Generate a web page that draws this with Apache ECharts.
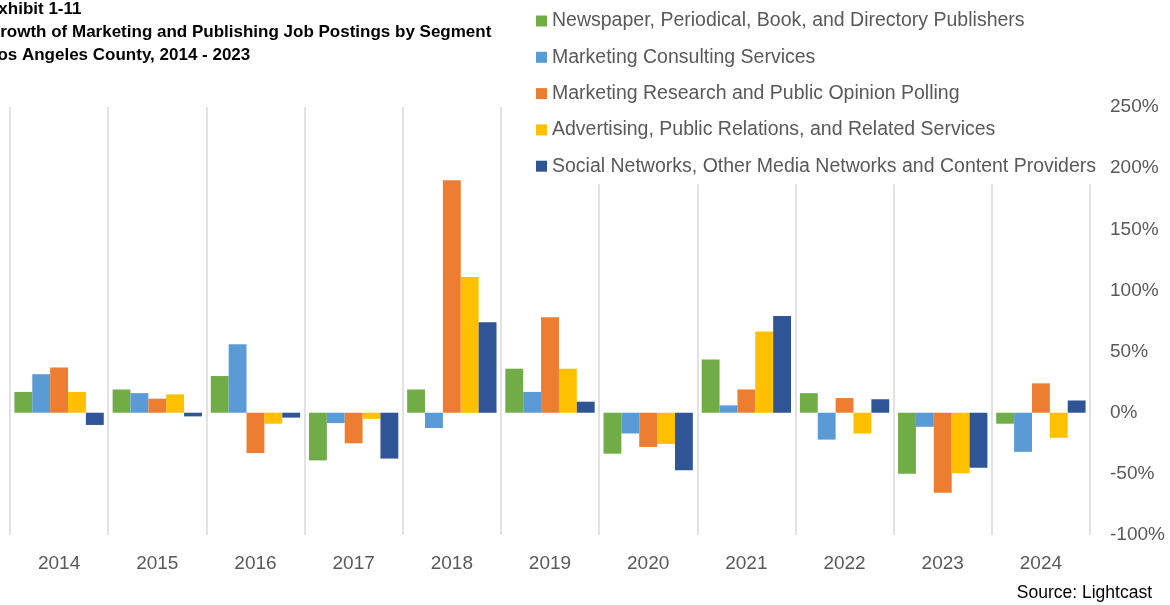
<!DOCTYPE html>
<html>
<head>
<meta charset="utf-8">
<title>Exhibit 1-11</title>
<script src="https://cdn.jsdelivr.net/npm/echarts@6/dist/echarts.min.js"></script>
<style>
  html, body { margin: 0; padding: 0; background: #fff; }
  #chart { width: 1170px; height: 605px; }
</style>
</head>
<body>
<div id="chart"></div>
<script>
const years = ["2014", "2015", "2016", "2017", "2018", "2019", "2020", "2021", "2022", "2023", "2024"];

const seriesNames = [
  "Newspaper, Periodical, Book, and Directory Publishers",
  "Marketing Consulting Services",
  "Marketing Research and Public Opinion Polling",
  "Advertising, Public Relations, and Related Services",
  "Social Networks, Other Media Networks and Content Providers",
];

const seriesColors = ["#70ad47", "#5b9bd5", "#ed7d31", "#ffc000", "#2f5597"];

// growth in percent
const publishers = [17, 19, 30, -39, 19, 36, -33.5, 43.5, 16, -50, -9];
const consulting = [31.5, 16, 56, -8.5, -12.5, 17, -17, 6, -22, -11.5, -32];
const research = [37, 11.5, -33, -25, 190, 78, -28, 19, 12, -65.5, 24];
const advertising = [17, 15, -9, -5, 111, 36, -25.5, 66.5, -17, -49.5, -20.5];
const socialNetworks = [-10, -3, -4, -37.5, 74, 9, -47, 79, 11, -45, 10];

const seriesValues = [publishers, consulting, research, advertising, socialNetworks];

const axisFont = '"Liberation Sans", Arial, sans-serif';

const chart = echarts.init(document.querySelector("#chart"));

chart.setOption({
  animation: false,
  title: [
    {
      text: "Exhibit 1-11\nGrowth of Marketing and Publishing Job Postings by Segment\nLos Angeles County, 2014 - 2023",
      left: -13,
      top: -2,
      padding: 0,
      textStyle: {
        fontFamily: axisFont,
        fontSize: 17,
        fontWeight: "bold",
        color: "#000",
        lineHeight: 23,
      },
    },
    {
      text: "Source: Lightcast",
      right: 18,
      top: 583,
      padding: 0,
      textStyle: {
        fontFamily: axisFont,
        fontSize: 17.5,
        fontWeight: "normal",
        color: "#000",
        lineHeight: 20,
      },
    },
  ],
  legend: {
    orient: "vertical",
    left: 525,
    top: 0,
    padding: [11, 6, 8, 11],
    backgroundColor: "#fff",
    itemWidth: 11,
    itemHeight: 11,
    itemGap: 16.3,
    icon: "rect",
    data: seriesNames,
    textStyle: {
      fontFamily: axisFont,
      fontSize: 19.5,
      color: "#595959",
      lineHeight: 20,
    },
  },
  grid: { left: 10, right: 80, top: 107, bottom: 70, containLabel: false },
  xAxis: {
    type: "category",
    data: years,
    axisLine: { show: false },
    axisTick: { show: false },
    axisLabel: {
      fontFamily: axisFont,
      fontSize: 19,
      color: "#595959",
      margin: 19,
    },
    splitLine: {
      show: true,
      interval: 0,
      lineStyle: { color: "#d9d9d9", width: 1.5 },
    },
  },
  yAxis: {
    type: "value",
    position: "right",
    min: -100,
    max: 250,
    interval: 50,
    axisLine: { show: false },
    axisTick: { show: false },
    splitLine: { show: false },
    axisLabel: {
      fontFamily: axisFont,
      fontSize: 19,
      color: "#595959",
      margin: 20,
      formatter: "{value}%",
    },
  },
  series: seriesNames.map((name, index) => ({
    name,
    type: "bar",
    data: seriesValues[index],
    barGap: "0%",
    barCategoryGap: "9%",
    itemStyle: { color: seriesColors[index] },
  })),
});
</script>
</body>
</html>
